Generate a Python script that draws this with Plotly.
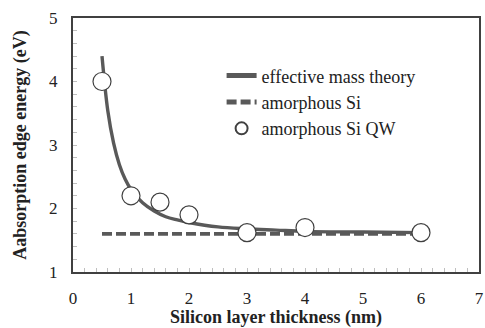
import plotly.graph_objects as go

# Effective mass theory curve
theory_x = [0.5, 0.6, 0.7, 0.8, 0.9, 1.0, 1.2, 1.4, 1.6, 1.8, 2.0, 2.5, 3.0, 3.5, 4.0, 5.0, 6.0]
theory_y = [4.40, 3.54, 3.03, 2.69, 2.46, 2.30, 2.09, 1.96, 1.87, 1.82, 1.78, 1.71, 1.68, 1.66, 1.64, 1.63, 1.62]

# Amorphous Si band gap
amorph_x = [0.5, 6.0]
amorph_y = [1.60, 1.60]

# Amorphous Si QW measured points
qw_x = [0.5, 1.0, 1.5, 2.0, 3.0, 4.0, 6.0]
qw_y = [4.00, 2.20, 2.10, 1.90, 1.62, 1.70, 1.62]

FONT = "Liberation Serif"
GRAY = "#595959"
TXT = "#222222"

fig = go.Figure()
fig.add_trace(go.Scatter(x=theory_x, y=theory_y, mode="lines", name="effective mass theory",
                         line=dict(color=GRAY, width=3.4, shape="spline")))
fig.add_trace(go.Scatter(x=amorph_x, y=amorph_y, mode="lines", name="amorphous Si",
                         line=dict(color=GRAY, width=3.6, dash="10px,4px")))
fig.add_trace(go.Scatter(x=qw_x, y=qw_y, mode="markers", name="amorphous Si QW",
                         marker=dict(symbol="circle", size=18, color="white",
                                     line=dict(color="#404040", width=1.2))))

axis_common = dict(showgrid=False, zeroline=False, showline=True, linecolor="#404040",
                   linewidth=2, mirror=True, ticks="inside", ticklen=4, tickcolor="#bfbfbf",
                   automargin=False,
                   tickfont=dict(family=FONT, size=17, color=TXT),
                   minor=dict(ticks="inside", ticklen=4, dtick=0.2, tickcolor="#bfbfbf", showgrid=False))

fig.update_xaxes(range=[0, 7], dtick=1, ticklabelstandoff=10,
                 title=dict(text="<b>Silicon layer thickness (nm)</b>",
                            font=dict(family=FONT, size=18, color=TXT), standoff=4),
                 **axis_common)
fig.update_yaxes(range=[1, 5], dtick=1, ticklabelstandoff=10,
                 title=dict(text="<b>Aabsorption edge energy (eV)</b>",
                            font=dict(family=FONT, size=18, color=TXT), standoff=18),
                 **axis_common)

fig.update_layout(
    width=485, height=328,
    margin=dict(l=73, r=6, t=18, b=56),
    paper_bgcolor="white", plot_bgcolor="white",
    showlegend=True,
    legend=dict(x=0.366, y=0.845, xanchor="left", yanchor="top", bgcolor="rgba(0,0,0,0)",
                font=dict(family=FONT, size=18, color=TXT), itemwidth=30,
                itemsizing="constant", tracegroupgap=0),
    font=dict(family=FONT),
)

fig.write_html("out.html")
